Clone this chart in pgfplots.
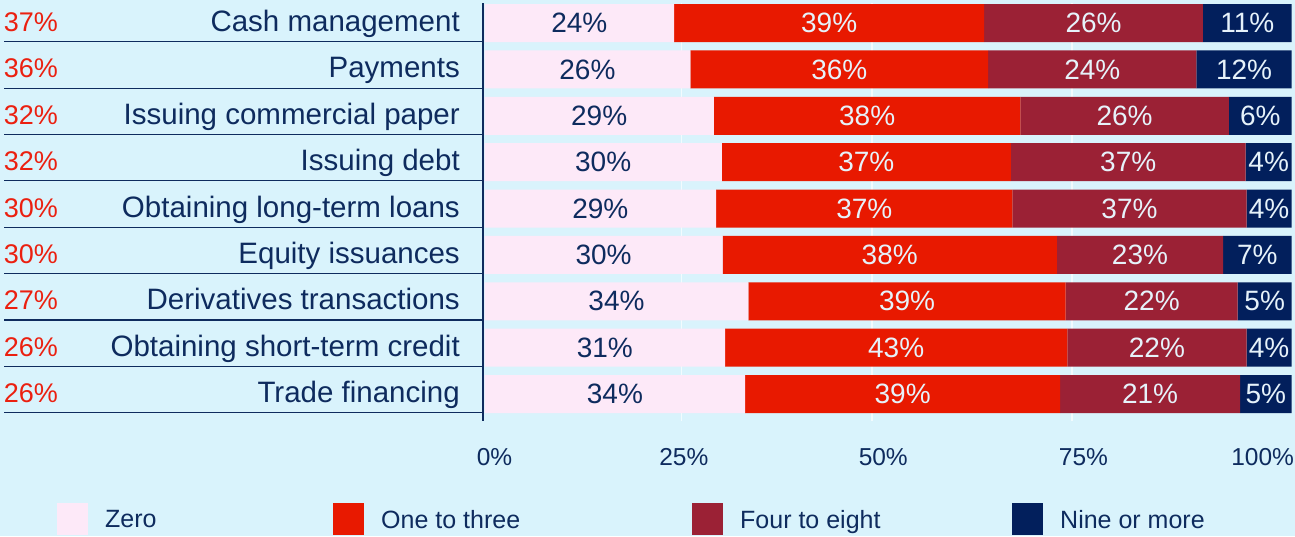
\documentclass[border=0pt]{standalone}
\usepackage{fontspec}
\setmainfont{Liberation Sans}
\usepackage{pgfplots}
\usepackage{pgfplotstable}
\pgfplotsset{compat=1.18}

\definecolor{bg}{HTML}{D9F3FC}
\definecolor{czero}{HTML}{FDE9F8}
\definecolor{cone}{HTML}{E81900}
\definecolor{cfour}{HTML}{9B2135}
\definecolor{cnine}{HTML}{021F5C}
\definecolor{navytext}{HTML}{0E2B5E}
\definecolor{redtext}{HTML}{EB2010}
\definecolor{lighttext}{HTML}{E6F2FA}
\definecolor{gridc}{HTML}{F2FBFE}

\newcommand\redl[1]{{\color{redtext}\fontsize{27}{29}\selectfont #1}}

% bar widths as drawn (the printed labels do not always add up)
\pgfplotstableread{
idx z    o    f    n    lz lo lf ln
0   23.5 38.4 27.1 11.0 24 39 26 11
1   25.5 36.9 25.8 11.8 26 36 24 12
2   28.4 38.0 25.8 7.8  29 38 26 6
3   29.4 35.8 29.1 5.7  30 37 37 4
4   28.7 36.7 29.0 5.6  29 37 37 4
5   29.5 41.4 20.6 8.5  30 38 23 7
6   32.7 39.3 21.3 6.7  34 39 22 5
7   29.8 42.4 22.2 5.6  31 43 22 4
8   32.3 39.0 22.3 6.4  34 39 21 5
}\ratings
% label positions: middle of each segment
\pgfplotstablecreatecol[expr={\thisrow{z}/2}]{cz}\ratings
\pgfplotstablecreatecol[expr={\thisrow{z}+\thisrow{o}/2}]{co}\ratings
\pgfplotstablecreatecol[expr={\thisrow{z}+\thisrow{o}+\thisrow{f}/2}]{cf}\ratings
\pgfplotstablecreatecol[expr={\thisrow{z}+\thisrow{o}+\thisrow{f}+\thisrow{n}/2}]{cn}\ratings

\pgfplotsset{
  frame/.style={
    at={(482.5pt,-420.9pt)}, anchor=south west,
    scale only axis, width=809.2pt, height=417.8pt,
    xmin=-0.25, xmax=100, ymin=-0.43, ymax=8.58, y dir=reverse,
    enlargelimits=false, clip=false},
  lbl/.style={only marks, mark=none, point meta=explicit symbolic,
    nodes near coords={\pgfplotspointmeta\%},
    every node near coord/.append style={anchor=center, inner sep=0pt,
      font=\fontsize{28}{30}\selectfont, text=#1}},
}

\begin{document}
\begin{tikzpicture}
\useasboundingbox (0,0) rectangle (1295pt,-536pt);
\fill[bg] (0,0) rectangle (1295pt,-536pt);
\begin{axis}[
  frame,
  xbar stacked, bar width=38pt,
  axis y line*=left, axis x line*=bottom,
  x axis line style={draw=none},
  y axis line style={draw=navytext, line width=2pt, -},
  xtick={24.4,48.0,72.8}, xticklabels={,,},
  xmajorgrids, grid style={draw=gridc, line width=1.5pt},
  extra x ticks={1.24,24.7,49.4,74.2,96.4},
  extra x tick labels={0\%,25\%,50\%,75\%,100\%},
  extra x tick style={grid=none},
  xticklabel style={anchor=center, yshift=-35.8pt, text=navytext,
    font=\fontsize{24.5}{26}\selectfont},
  ytick={0,1,2,3,4,5,6,7,8},
  yticklabels={
    {\makebox[456pt]{\redl{37\%}\hfill Cash management}},
    {\makebox[456pt]{\redl{36\%}\hfill Payments}},
    {\makebox[456pt]{\redl{32\%}\hfill Issuing commercial paper}},
    {\makebox[456pt]{\redl{32\%}\hfill Issuing debt}},
    {\makebox[456pt]{\redl{30\%}\hfill Obtaining long-term loans}},
    {\makebox[456pt]{\redl{30\%}\hfill Equity issuances}},
    {\makebox[456pt]{\redl{27\%}\hfill Derivatives transactions}},
    {\makebox[456pt]{\redl{26\%}\hfill Obtaining short-term credit}},
    {\makebox[456pt]{\redl{26\%}\hfill Trade financing}}},
  yticklabel style={anchor=base east, inner sep=0pt, xshift=-22.5pt, yshift=-8.5pt,
    text=navytext, font=\fontsize{29.5}{31}\selectfont},
  minor ytick={0.403,1.403,2.403,3.403,4.403,5.403,6.403,7.403,8.403},
  ytick align=outside,
  major tick length=0pt, minor tick length=478.5pt,
  minor tick style={draw=navytext, line width=1.2pt},
  legend columns=4,
  legend image code/.code={\fill[#1] (0pt,-16pt) rectangle (31pt,16pt);},
  legend style={at={(-0.5258,-0.2348)}, anchor=west, draw=none, fill=none,
    inner sep=0pt,
    nodes={inner sep=0pt, text depth=0pt, text=navytext,
      font=\fontsize{25}{27}\selectfont},
    cells={anchor=west},
    /tikz/every odd column/.append style={column sep=17pt}},
]
\addplot[fill=czero, draw=none] table[x=z, y=idx] {\ratings};
\addplot[fill=cone, draw=none] table[x=o, y=idx] {\ratings};
\addplot[fill=cfour, draw=none] table[x=f, y=idx] {\ratings};
\addplot[fill=cnine, draw=none] table[x=n, y=idx] {\ratings};
\legend{\makebox[228pt][l]{Zero}, \makebox[311pt][l]{One to three},
  \makebox[272pt][l]{Four to eight}, Nine or more}
\end{axis}
\begin{axis}[frame, hide axis]
\addplot[lbl=navytext] table[x=cz, y=idx, meta=lz] {\ratings};
\addplot[lbl=lighttext] table[x=co, y=idx, meta=lo] {\ratings};
\addplot[lbl=lighttext] table[x=cf, y=idx, meta=lf] {\ratings};
\addplot[lbl=lighttext] table[x=cn, y=idx, meta=ln] {\ratings};
\end{axis}
\end{tikzpicture}
\end{document}
